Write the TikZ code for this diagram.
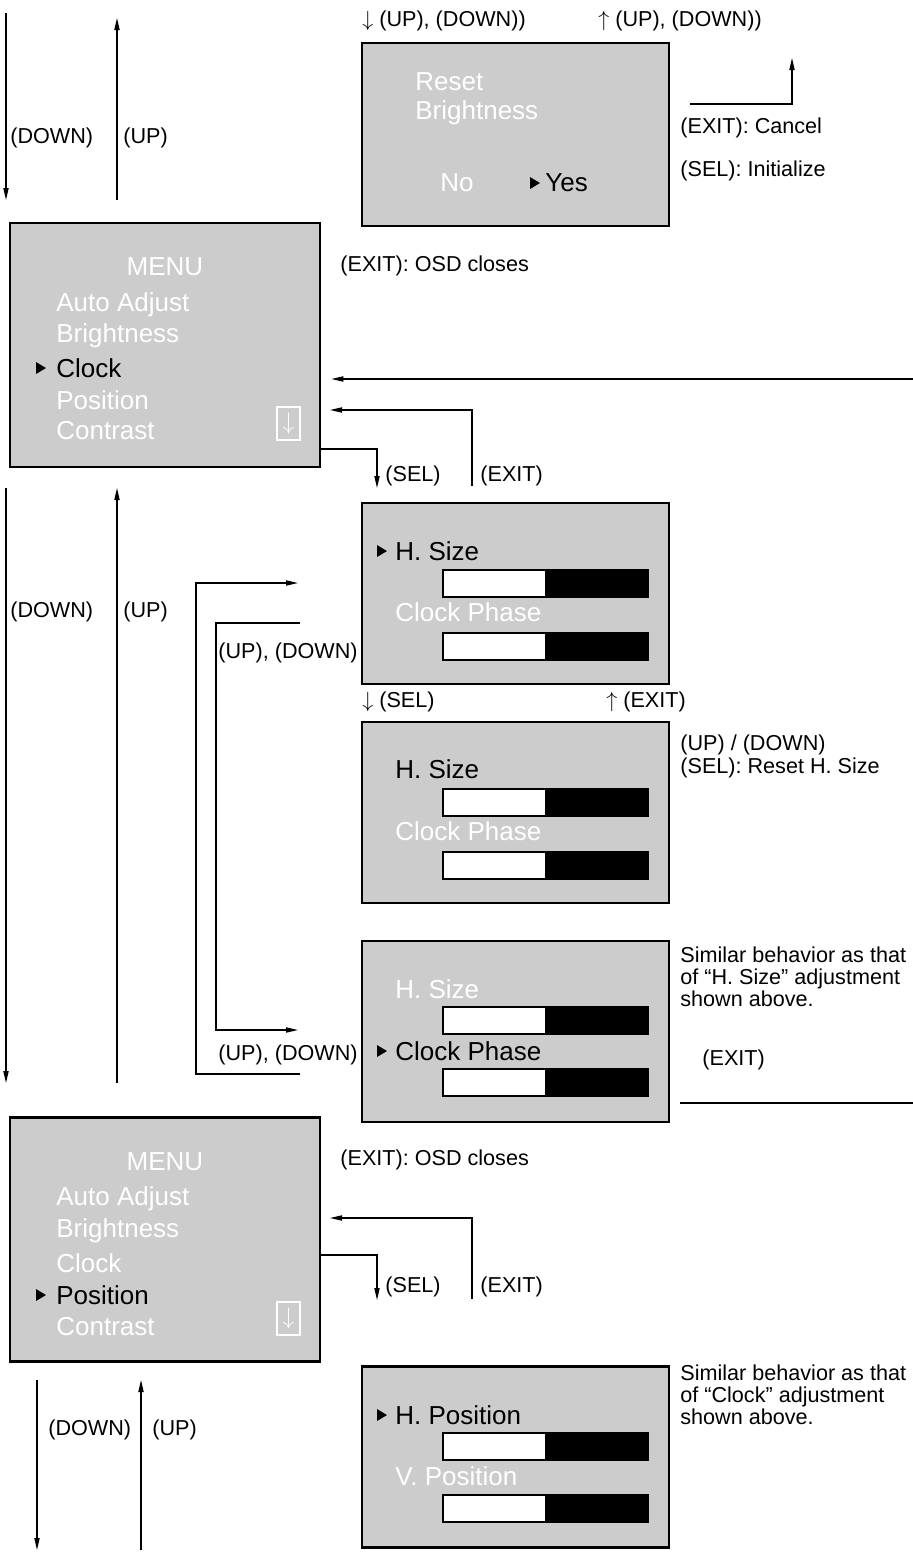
\documentclass[tikz,border=0pt]{standalone}
\usepackage{fontspec}
\setmainfont{Liberation Sans}
\usepackage{tikz}
\usetikzlibrary{positioning}
\usetikzlibrary{arrows.meta}
\definecolor{osdgray}{RGB}{204,204,204}
\tikzset{
    osdbox/.style = {rectangle, draw=black, line width=1.3pt, fill=osdgray, minimum width=153.5pt, inner sep=0pt},
    menubox/.style = {osdbox, minimum width=155pt, minimum height=122pt},
    lbl/.style = {anchor=west, inner sep=0pt, font=\fontsize{10.8}{11}\selectfont},
    itemw/.style = {anchor=west, inner sep=0pt, text=white, font=\fontsize{13}{15}\selectfont},
    itemb/.style = {itemw, text=black},
    scroll/.style = {rectangle, draw=white, line width=1pt, text=white, inner sep=0pt, minimum width=11.5pt, minimum height=16.5pt, font=\fontsize{12}{12}\selectfont},
    edgen/.style = {-{Triangle[length=6pt,width=2.6pt]}, line width=0.6pt},
    linen/.style = {line width=0.6pt},
    barw/.style = {fill=white, draw=black, line width=1.2pt},
    cursor/.pic = {\fill (0,-6) -- (0,6) -- (10,0) -- cycle;}
}
\begin{document}
\begin{tikzpicture}[x=0.5pt, y=-0.5pt]
  \useasboundingbox (0,0) rectangle (913,1553);

  % screens
  \node[osdbox, minimum height=91.5pt] (rstbox) at (515.5,134.5) {};
  \node[menubox] (menu1) at (165,345) {};
  \node[osdbox, minimum height=90.5pt] (hsize1) at (515.5,593.5) {};
  \node[osdbox, minimum height=90.5pt] (hsize2) at (515.5,812.5) {};
  \node[osdbox, minimum height=90.5pt] (phase) at (515.5,1031.5) {};
  \node[menubox] (menu2) at (165,1239.5) {};
  \node[osdbox, minimum height=90.5pt] (hpos) at (515.5,1457) {};

  % bars
  \foreach \y in {570,633,789,852,1007,1069,1433,1495} {
    \draw[barw] (443,\y) rectangle (648,\y+27);
    \fill (545,\y) rectangle (648,\y+27);
  }

  % reset screen
  \node[itemw] (rst1) at (415,82) {Reset};
  \node[itemw] (rst2) at (415,113) {Brightness};
  \node[itemw] (rstno) at (440,183) {No};
  \pic at (530,183) {cursor};
  \node[itemb] (rstyes) at (545,183) {Yes};

  % menu 1
  \node[itemw, anchor=center] (m1title) at (165,267) {MENU};
  \node[itemw] (m1auto) at (56,305) {Auto Adjust};
  \node[itemw] (m1bri) at (56,336) {Brightness};
  \pic at (36,368) {cursor};
  \node[itemb] (m1clk) at (56,368) {Clock};
  \node[itemw] (m1pos) at (56,400) {Position};
  \node[itemw] (m1con) at (56,431) {Contrast};
  \node[scroll] (m1icon) at (288.5,423.5) {$\downarrow$};

  % clock screens
  \pic at (377,551) {cursor};
  \node[itemb] (hs1a) at (395,551) {H. Size};
  \node[itemw] (hs1b) at (395,612) {Clock Phase};
  \node[itemb] (hs2a) at (395,769) {H. Size};
  \node[itemw] (hs2b) at (395,831) {Clock Phase};
  \node[itemw] (ph1a) at (395,989) {H. Size};
  \pic at (377,1051) {cursor};
  \node[itemb] (ph1b) at (395,1051) {Clock Phase};

  % menu 2
  \node[itemw, anchor=center] (m2title) at (165,1162) {MENU};
  \node[itemw] (m2auto) at (56,1199) {Auto Adjust};
  \node[itemw] (m2bri) at (56,1231) {Brightness};
  \node[itemw] (m2clk) at (56,1263) {Clock};
  \pic at (36,1295) {cursor};
  \node[itemb] (m2pos) at (56,1295) {Position};
  \node[itemw] (m2con) at (56,1327) {Contrast};
  \node[scroll] (m2icon) at (288.5,1318.5) {$\downarrow$};

  % position screen
  \pic at (377,1415) {cursor};
  \node[itemb] (hp1a) at (395,1415) {H. Position};
  \node[itemw] (hp1b) at (395,1476) {V. Position};

  % labels
  \node[lbl] (dn1) at (10,138) {(DOWN)};
  \node[lbl] (up1) at (123,138) {(UP)};
  \node[lbl] (rstdn) at (362,21) {$\downarrow$ (UP), (DOWN))};
  \node[lbl] (rstup) at (598,21) {$\uparrow$ (UP), (DOWN))};
  \node[lbl] (cancel) at (680,128) {(EXIT): Cancel};
  \node[lbl] (init) at (680,171) {(SEL): Initialize};
  \node[lbl] (close1) at (340,266) {(EXIT): OSD closes};
  \node[lbl] (sel1) at (385,476) {(SEL)};
  \node[lbl] (exit1) at (480,476) {(EXIT)};
  \node[lbl] (dn2) at (10,612) {(DOWN)};
  \node[lbl] (up2) at (123,612) {(UP)};
  \node[lbl, anchor=east] (ud1) at (358,653) {(UP), (DOWN)};
  \node[lbl] (sel2) at (362,702) {$\downarrow$ (SEL)};
  \node[lbl] (exit2) at (606,702) {$\uparrow$ (EXIT)};
  \node[lbl] (adj) at (680,745) {(UP) / (DOWN)};
  \node[lbl] (rsths) at (680,768) {(SEL): Reset H. Size};
  \node[lbl, anchor=north west, align=left] (simhs) at (680,946) {Similar behavior as that\\of “H. Size” adjustment\\shown above.};
  \node[lbl, anchor=east] (ud2) at (358,1055) {(UP), (DOWN)};
  \node[lbl] (exit3) at (702,1060) {(EXIT)};
  \node[lbl] (close2) at (340,1160) {(EXIT): OSD closes};
  \node[lbl] (sel3) at (385,1287) {(SEL)};
  \node[lbl] (exit4) at (480,1287) {(EXIT)};
  \node[lbl] (dn3) at (48,1430) {(DOWN)};
  \node[lbl] (up3) at (152,1430) {(UP)};
  \node[lbl, anchor=north west, align=left] (simclk) at (680,1364) {Similar behavior as that\\of “Clock” adjustment\\shown above.};

  % connector ends
  \coordinate (a1s) at (6,13);    \coordinate (a1e) at (6,200);
  \coordinate (a2s) at (117,200); \coordinate (a2e) at (117,18);
  \coordinate (can1) at (690,104); \coordinate (can2) at (792,58);
  \coordinate (ret1) at (913,379);
  \coordinate (ex1s) at (472,486); \coordinate (ex1e) at (330,410);
  \coordinate (sl1s) at (321,449); \coordinate (sl1e) at (377,488);
  \coordinate (a3s) at (6,488);   \coordinate (a3e) at (6,1083);
  \coordinate (a4s) at (117,1083); \coordinate (a4e) at (117,488);
  \coordinate (lp1s) at (300,1074); \coordinate (lp1m) at (196,583); \coordinate (lp1e) at (298,583);
  \coordinate (lp2s) at (300,623); \coordinate (lp2m) at (216,1030); \coordinate (lp2e) at (298,1030);
  \coordinate (out1) at (680,1103); \coordinate (out2) at (913,1103);
  \coordinate (ex2s) at (472,1299); \coordinate (ex2e) at (330,1218);
  \coordinate (sl2s) at (321,1255); \coordinate (sl2e) at (377,1300);
  \coordinate (a5s) at (37,1380);  \coordinate (a5e) at (37,1550);
  \coordinate (a6s) at (141,1550); \coordinate (a6e) at (141,1380);

  % connectors
  \draw[edgen] (a1s) -- (a1e);
  \draw[edgen] (a2s) -- (a2e);
  \draw[edgen] (can1) -| (can2);
  \draw[edgen, shorten >=5pt] (ret1) -- (ret1 -| menu1.east);
  \draw[edgen] (ex1s) |- (ex1e);
  \draw[edgen] (sl1s) -| (sl1e);
  \draw[edgen] (a3s) -- (a3e);
  \draw[edgen] (a4s) -- (a4e);
  \draw[edgen] (lp1s) -| (lp1m) -- (lp1e);
  \draw[edgen] (lp2s) -| (lp2m) -- (lp2e);
  \draw[linen] (out1) -- (out2);
  \draw[edgen] (ex2s) |- (ex2e);
  \draw[edgen] (sl2s) -| (sl2e);
  \draw[edgen] (a5s) -- (a5e);
  \draw[edgen] (a6s) -- (a6e);
\end{tikzpicture}
\end{document}
